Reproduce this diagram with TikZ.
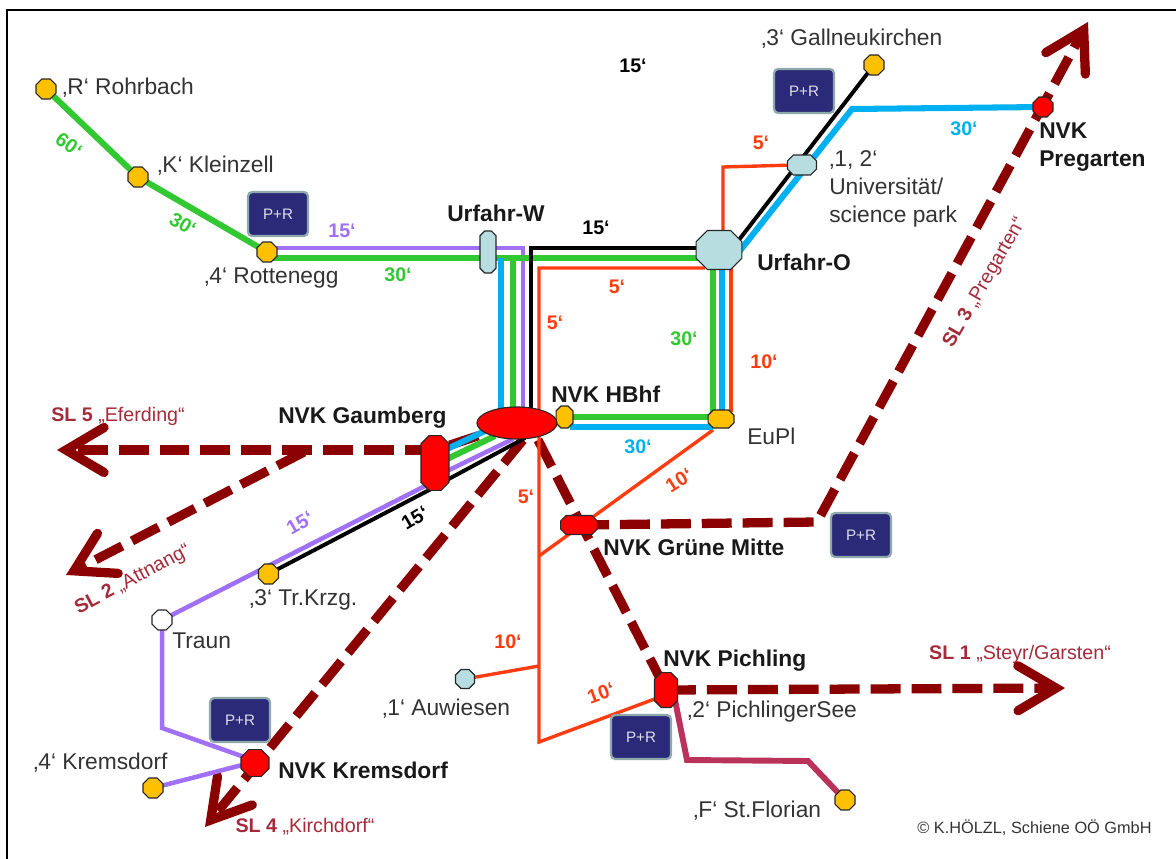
\documentclass[tikz,border=0pt]{standalone}
\usepackage{fontspec}
\setmainfont{Liberation Sans}
\usetikzlibrary{positioning,arrows.meta,backgrounds,shapes.geometric}
\definecolor{grnc}{HTML}{32C832}
\definecolor{bluc}{HTML}{00B0F0}
\definecolor{lilc}{HTML}{A070F5}
\definecolor{redc}{HTML}{FF3C0F}
\definecolor{winc}{HTML}{8B0000}
\definecolor{rosc}{HTML}{B8325A}
\definecolor{slcol}{HTML}{A52A3A}
\definecolor{ambc}{HTML}{FFC000}
\definecolor{icec}{HTML}{B7DDE0}
\definecolor{navc}{HTML}{2A2A78}
\definecolor{greyc}{HTML}{8FA8AC}
\definecolor{txtc}{HTML}{333333}
\makeatletter
\pgfdeclareshape{octbox}{
  \inheritsavedanchors[from=rectangle]
  \inheritanchorborder[from=rectangle]
  \inheritanchor[from=rectangle]{center}
  \inheritanchor[from=rectangle]{north}
  \inheritanchor[from=rectangle]{south}
  \inheritanchor[from=rectangle]{east}
  \inheritanchor[from=rectangle]{west}
  \backgroundpath{
    \southwest \pgf@xa=\pgf@x \pgf@ya=\pgf@y
    \northeast \pgf@xb=\pgf@x \pgf@yb=\pgf@y
    \pgf@xc=\pgf@xb \advance\pgf@xc by -\pgf@xa
    \pgf@yc=\pgf@yb \advance\pgf@yc by -\pgf@ya
    \ifdim\pgf@yc<\pgf@xc \pgf@xc=\pgf@yc \fi
    \pgf@xc=0.29\pgf@xc
    \pgfpathmoveto{\pgfqpoint{\pgf@xa}{\dimexpr\pgf@ya+\pgf@xc}}
    \pgfpathlineto{\pgfqpoint{\pgf@xa}{\dimexpr\pgf@yb-\pgf@xc}}
    \pgfpathlineto{\pgfqpoint{\dimexpr\pgf@xa+\pgf@xc}{\pgf@yb}}
    \pgfpathlineto{\pgfqpoint{\dimexpr\pgf@xb-\pgf@xc}{\pgf@yb}}
    \pgfpathlineto{\pgfqpoint{\pgf@xb}{\dimexpr\pgf@yb-\pgf@xc}}
    \pgfpathlineto{\pgfqpoint{\pgf@xb}{\dimexpr\pgf@ya+\pgf@xc}}
    \pgfpathlineto{\pgfqpoint{\dimexpr\pgf@xb-\pgf@xc}{\pgf@ya}}
    \pgfpathlineto{\pgfqpoint{\dimexpr\pgf@xa+\pgf@xc}{\pgf@ya}}
    \pgfpathclose
  }
}
\makeatother
\begin{document}
\begin{tikzpicture}[x=0.025cm,y=-0.025cm,
  stn/.style 2 args={draw=black!85,line width=0.8pt,shape=octbox,minimum width=#1,minimum height=#2,inner sep=0pt,outer sep=0pt},
  stop/.style={stn={14.2pt}{14.2pt},fill=ambc},
  park/.style={draw=greyc,line width=1.6pt,fill=navc,rounded corners=3pt,minimum width=1.5cm,minimum height=1.1cm,text=white!85!navc,font=\fontsize{10.8}{12}\selectfont},
  lbl/.style={text=txtc,inner sep=0pt,anchor=west,align=left,font=\fontsize{16.2}{20.2}\selectfont},
  nvk/.style={text=black!90,inner sep=0pt,anchor=west,align=left,font=\fontsize{16.2}{19.5}\bfseries\selectfont},
  mins/.style={inner sep=0pt,font=\fontsize{14}{16}\bfseries\selectfont},
  sltxt/.style={text=slcol,inner sep=0pt,font=\fontsize{14}{16}\selectfont},
  grnline/.style={draw=grnc,line width=4.3pt},
  bluline/.style={draw=bluc,line width=4.3pt},
  lilline/.style={draw=lilc,line width=3.2pt},
  blkline/.style={draw=black,line width=2.8pt},
  redline/.style={draw=redc,line width=2.4pt},
  rosline/.style={draw=rosc,line width=4.2pt},
  slline/.style={draw=winc,line width=6.6pt,dash pattern=on 21.3pt off 7.8pt},
  slhead/.style={-{Straight Barb[length=27pt,width=32pt,line cap=round]}}]
  \useasboundingbox (0,0) rectangle (1176,859);

  % stations
  \node[stop] (rohrbach) at (46,89) {};
  \node[stop] (kleinzell) at (138,177) {};
  \node[stop] (rottenegg) at (267,252) {};
  \node[stop] (gallneu) at (874,65) {};
  \node[stn={14.2pt}{14.2pt},fill=red] (pregarten) at (1043,107) {};
  \node[stn={20.6pt}{14.2pt},fill=icec] (uni) at (802,165) {};
  \node[stn={11.3pt}{29.8pt},fill=icec] (urfw) at (488,252) {};
  \node[stn={32.6pt}{27.7pt},fill=icec] (urfo) at (719,250) {};
  \node[stn={12pt}{15.6pt},fill=ambc] (hbhf) at (564.5,417) {};
  \node[draw=black!85,line width=0.8pt,fill=red,ellipse,inner sep=0pt,minimum width=2cm,minimum height=0.8cm] (ell) at (517,423) {};
  \node[stn={18.4pt}{12.8pt},fill=ambc] (eupl) at (721,419) {};
  \node[stn={19.9pt}{39pt},fill=red] (gaumberg) at (435,463) {};
  \node[stop] (trkrzg) at (268.5,574) {};
  \node[stn={14.2pt}{14.2pt},fill=white] (traun) at (162,620) {};
  \node[stop] (kremsd) at (153,788) {};
  \node[stn={19.9pt}{19.1pt},fill=red] (kremsdorf) at (255,763) {};
  \node[stn={13.5pt}{13.5pt},fill=icec] (auwiesen) at (465,679) {};
  \node[stn={26.2pt}{13.5pt},fill=red] (gruene) at (579,525) {};
  \node[stn={16.3pt}{24.8pt},fill=red] (pichling) at (666,690) {};
  \node[stop] (florian) at (845,800) {};

  % P+R boxes
  \node[park] (parkA) at (804,91) {P+R};
  \node[park] (parkB) at (278,214) {P+R};
  \node[park] (parkC) at (240,720) {P+R};
  \node[park] (parkD) at (641,737) {P+R};
  \node[park] (parkE) at (861,535) {P+R};

  % free ends and bends
  \coordinate (frameA) at (7,859); \coordinate (frameB) at (7,10); \coordinate (frameC) at (1176,10);
  \coordinate (lilA) at (270,248); \coordinate (lilB) at (523,248); \coordinate (lilC) at (523,410);
  \coordinate (grnA) at (270,258); \coordinate (grnB) at (700,258); \coordinate (grnC) at (513,258); \coordinate (grnD) at (513,412);
  \coordinate (bluA) at (501,258); \coordinate (bluB) at (501,412);
  \coordinate (blkA) at (700,248); \coordinate (blkB) at (531,248); \coordinate (blkC) at (531,410);
  \coordinate (redA) at (705,268); \coordinate (redB) at (539,268); \coordinate (redC) at (539,742); \coordinate (redD) at (660,697);
  \coordinate (redE) at (539,666); \coordinate (redF) at (539,556); \coordinate (redG) at (713,430);
  \coordinate (redH) at (723,235); \coordinate (redI) at (723,167); \coordinate (redJ) at (795,165);
  \coordinate (grnE) at (713,265); \coordinate (grnF) at (713,412);
  \coordinate (bluC) at (722,265); \coordinate (bluD) at (722,412);
  \coordinate (redK) at (731,265); \coordinate (redL) at (731,412);
  \coordinate (grnG) at (570,417); \coordinate (grnH) at (710,417);
  \coordinate (bluE) at (570,427); \coordinate (bluF) at (713,427);
  \coordinate (bluG) at (735,257); \coordinate (bluH) at (852,109);
  \coordinate (blkD) at (735,245);
  \coordinate (bunA) at (445,450); \coordinate (bunB) at (487,430);
  \coordinate (bunC) at (445,460); \coordinate (bunD) at (495,436);
  \coordinate (bunE) at (445,472); \coordinate (bunF) at (513,439);
  \coordinate (bunG) at (445,481); \coordinate (bunH) at (525,438);
  \coordinate (lilD) at (427,485); \coordinate (blkE) at (433,488);
  \coordinate (lilE) at (162,728);
  \coordinate (lilF) at (250,759); \coordinate (lilG) at (250,763);
  \coordinate (rosA) at (675,700); \coordinate (rosB) at (687,760); \coordinate (rosC) at (808,761);
  \coordinate (slGau) at (435,450); \coordinate (tipFive) at (57,450);
  \coordinate (slAtt) at (304,452); \coordinate (tipTwo) at (66,575);
  \coordinate (slKir) at (523,440); \coordinate (tipFour) at (205,827);
  \coordinate (slSte) at (538,440); \coordinate (tipOne) at (1065,688);
  \coordinate (slPre) at (817,522); \coordinate (tipThree) at (1088,22);

  \begin{scope}[on background layer]
    \draw[black,line width=1.6pt] (frameA)--(frameB)--(frameC);
    % S-Bahn lines
    \draw[slline] (ell.center)--(slGau); \draw[slline,slhead] (slGau)--(tipFive);
    \draw[slline,slhead] (slAtt)--(tipTwo);
    \draw[slline,slhead] (slKir)--(tipFour);
    \draw[slline] (slSte)--(pichling.center); \draw[slline,slhead] (pichling.center)--(tipOne);
    \draw[slline,line join=miter,slhead] (gruene.center)--(slPre)--(tipThree);
    % tram and bus lines
    \draw[grnline] (rohrbach.center)--(kleinzell.center); \draw[grnline] (kleinzell.center)--(rottenegg.center);
    \draw[lilline] (lilA)--(lilB)--(lilC);
    \draw[grnline] (grnA)--(grnB); \draw[grnline] (grnC)--(grnD);
    \draw[bluline] (bluA)--(bluB);
    \draw[blkline] (blkA)--(blkB)--(blkC);
    \draw[redline] (redA)--(redB)--(redC)--(redD);
    \draw[redline] (auwiesen.center)--(redE); \draw[redline] (redF)--(redG);
    \draw[redline] (redH)--(redI)--(redJ);
    \draw[grnline] (grnE)--(grnF); \draw[bluline] (bluC)--(bluD); \draw[redline] (redK)--(redL);
    \draw[grnline] (grnG)--(grnH); \draw[bluline] (bluE)--(bluF);
    \draw[bluline] (bluG)--(bluH)--(pregarten.center);
    \draw[blkline] (blkD)--(gallneu.center);
    \draw[bluline] (bunA)--(bunB); \draw[grnline] (bunC)--(bunD);
    \draw[lilline] (bunE)--(bunF); \draw[blkline] (bunG)--(bunH);
    \draw[lilline] (traun.center)--(lilD); \draw[blkline] (trkrzg.center)--(blkE);
    \draw[lilline] (traun.center)--(lilE)--(lilF); \draw[lilline] (kremsd.center)--(lilG);
    \draw[rosline] (rosA)--(rosB)--(rosC)--(florian.center);
  \end{scope}

  % stop names
  \node[lbl] (nameR) at (62,88) {‚R‘ Rohrbach};
  \node[lbl] (nameK) at (157,166) {‚K‘ Kleinzell};
  \node[lbl] (nameRot) at (204,278) {‚4‘ Rottenegg};
  \node[lbl] (nameGal) at (761,39) {‚3‘ Gallneukirchen};
  \node[lbl,anchor=north west] (nameUni) at (829,150) {‚1, 2‘\\Universität/\\science park};
  \node[lbl] (nameEu) at (747,436) {EuPl};
  \node[lbl] (nameTr) at (249,600) {‚3‘ Tr.Krzg.};
  \node[lbl] (nameTra) at (172,641) {Traun};
  \node[lbl] (nameKre) at (33,763) {‚4‘ Kremsdorf};
  \node[lbl] (nameAuw) at (382,709) {‚1‘ Auwiesen};
  \node[lbl] (namePis) at (687,712) {‚2‘ PichlingerSee};
  \node[lbl] (nameFlo) at (693,811) {‚F‘ St.Florian};
  \node[nvk] (nvkUW) at (447,213) {Urfahr-W};
  \node[nvk] (nvkUO) at (757,262) {Urfahr-O};
  \node[nvk,anchor=north west] (nvkPre) at (1039,123) {NVK\\Pregarten};
  \node[nvk] (nvkHb) at (551,394) {NVK HBhf};
  \node[nvk] (nvkGa) at (278,418) {NVK Gaumberg};
  \node[nvk] (nvkKr) at (278,770) {NVK Kremsdorf};
  \node[nvk] (nvkGr) at (603,547) {NVK Grüne Mitte};
  \node[nvk] (nvkPi) at (663,661) {NVK Pichling};

  % minutes
  \node[mins] (minA) at (633,66) {15‘};
  \node[mins] (minB) at (596,228) {15‘};
  \node[mins,text=redc] (minC) at (761,143) {5‘};
  \node[mins,text=bluc] (minD) at (964,129) {30‘};
  \node[mins,text=lilc] (minE) at (342,231) {15‘};
  \node[mins,text=grnc] (minF) at (398,275) {30‘};
  \node[mins,text=grnc,rotate=-35] (minG) at (69,145) {60‘};
  \node[mins,text=grnc,rotate=-30] (minH) at (183,224) {30‘};
  \node[mins,text=redc] (minI) at (617,287) {5‘};
  \node[mins,text=redc] (minJ) at (555,323) {5‘};
  \node[mins,text=grnc] (minK) at (684,339) {30‘};
  \node[mins,text=redc] (minL) at (764,362) {10‘};
  \node[mins,text=bluc] (minM) at (638,447) {30‘};
  \node[mins,text=redc,rotate=32] (minN) at (679,480) {10‘};
  \node[mins,text=redc] (minO) at (526,497) {5‘};
  \node[mins,text=lilc,rotate=30] (minP) at (300,523) {15‘};
  \node[mins,rotate=30] (minQ) at (415,518) {15‘};
  \node[mins,text=redc] (minR) at (508,642) {10‘};
  \node[mins,text=redc,rotate=20] (minS) at (601,693) {10‘};

  % S-Bahn names
  \node[sltxt] (slOne) at (1020,654) {\textbf{SL 1} „Steyr/Garsten“};
  \node[sltxt,rotate=28] (slTwo) at (133,580) {\textbf{SL 2} „Attnang“};
  \node[sltxt,rotate=60] (slThree) at (985,283) {\textbf{SL 3} „Pregarten“};
  \node[sltxt] (slFour) at (305,827) {\textbf{SL 4} „Kirchdorf“};
  \node[sltxt] (slFive) at (118,416) {\textbf{SL 5} „Eferding“};
  \node[text=txtc,inner sep=0pt,font=\fontsize{11.6}{13}\selectfont] (credit) at (1034.5,828) {© K.HÖLZL, Schiene OÖ GmbH};
\end{tikzpicture}
\end{document}
